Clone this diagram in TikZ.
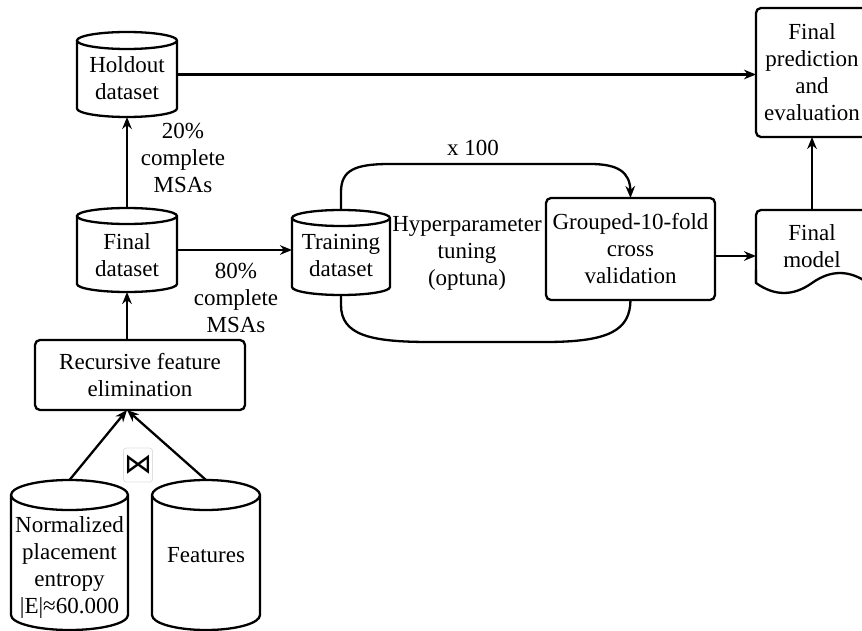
\documentclass[tikz,border=0pt]{standalone}
\usepackage{fontspec}
\setmainfont{Liberation Serif}
\newfontfamily\symfont{DejaVu Sans}
\usetikzlibrary{arrows.meta,calc}

% cylinder outline drawn around an (invisible) node: #1 name, #2 half width, #3 ellipse radius
\newcommand\drawcyl[3]{%
  \draw ([yshift=-#3]#1.north west) -- ([yshift=#3]#1.south west)
    arc[start angle=180,end angle=360,x radius=#2,y radius=#3]
    -- ([yshift=-#3]#1.north east)
    arc[start angle=0,end angle=180,x radius=#2,y radius=#3]
    arc[start angle=180,end angle=360,x radius=#2,y radius=#3];}

\begin{document}
\begin{tikzpicture}[x=0.5pt,y=-0.5pt,line width=1.15pt,
  every node/.style={font=\fontsize{11.5}{13.5}\selectfont,align=center,inner sep=0pt,outer sep=0pt},
  cylbox/.style={rectangle,draw=none},
  procbox/.style={rectangle,draw,rounded corners=2.5pt},
  arr/.style={-{Stealth[length=6pt,width=4.8pt]}}]
\clip (0,0) rectangle (862,631);

% data stores
\node[cylbox,minimum width=50pt,minimum height=42.5pt,
  label={[yshift=-1.75pt]center:Holdout\\dataset}] (hold) at (127,74.5) {};
\node[cylbox,minimum width=50pt,minimum height=42pt,
  label={[yshift=-2.75pt]center:Final\\dataset}] (fin) at (127,250) {};
\node[cylbox,minimum width=49pt,minimum height=42.5pt,
  label={[yshift=-1.25pt]center:Training\\dataset}] (train) at (341,252.5) {};
\node[cylbox,minimum width=58.5pt,minimum height=75pt,
  label={[yshift=-6pt]center:Normalized\\placement\\entropy\\|E|≈60.000}] (norm) at (69.5,555) {};
\node[cylbox,minimum width=54pt,minimum height=75pt,
  label={center:Features}] (feat) at (206,555) {};

\drawcyl{hold}{25pt}{4.25pt}
\drawcyl{fin}{25pt}{4pt}
\drawcyl{train}{24.5pt}{4pt}
\drawcyl{norm}{29.25pt}{7.5pt}
\drawcyl{feat}{27pt}{7.5pt}

% processing steps
\node[procbox,minimum width=105pt,minimum height=35pt] (rfe) at (140,375)
  {Recursive feature\\elimination};
\node[procbox,minimum width=84.5pt,minimum height=51pt] (grp) at (630.5,249)
  {Grouped-10-fold\\cross\\validation};
\node[procbox,minimum width=56pt,minimum height=64.5pt] (pred) at (812,72.5)
  {Final\\prediction\\and\\evaluation};

% final model (document shape)
\node[cylbox,minimum width=56pt,minimum height=40pt] (model) at (812,250) {};
\draw[rounded corners=2.5pt] (756,283) -- (756,210) -- (868,210) -- (868,283);
\draw (868,283) .. controls (849.3,269.7) and (830.7,269.7) .. (812,283)
  .. controls (793.3,296.3) and (774.7,296.3) .. (756,283) -- (756,270);
\node at (812,246) {Final\\model};

% join symbol
\node[draw=gray!25,line width=0.4pt,rounded corners=1.5pt,minimum width=14.5pt,minimum height=17pt,
  font=\symfont\fontsize{14}{14}\selectfont] (join) at (138,465) {⋈};

% connectors
\coordinate (rfein) at (fin.south |- rfe.south);
\draw[arr] (norm.north) -- (rfein);
\draw[arr] (feat.north) -- (rfein);
\draw[arr] (rfe.north -| fin.south) -- (fin.south);
\draw[arr] (fin.north) -- (hold.south);
\draw[arr] (fin.east) -- (fin.east -| train.west);
\draw[arr] (hold.east) -- (hold.east -| pred.west);
\draw[arr] ([yshift=-3.5pt]grp.east) -- ([yshift=-3.5pt]grp.east -| model.west);
\draw[arr] (model.north) -- (pred.south);

% tuning loop
\draw[arr] (train.north) -- (341,192) .. controls (341,170) and (355,164) .. (390,164)
  -- (590,164) .. controls (618,164) and (630,172) .. (grp.north);
\draw (train.south) -- (341,305) .. controls (341,335) and (370,342) .. (430,342)
  -- (545,342) .. controls (610,342) and (630,330) .. (grp.south);

% edge labels
\node at (183,158) {20\%\\complete\\MSAs};
\node at (236,298) {80\%\\complete\\MSAs};
\node at (473,148) {x 100};
\node at (467,253.5) {Hyperparameter\\tuning\\(optuna)};
\end{tikzpicture}
\end{document}
